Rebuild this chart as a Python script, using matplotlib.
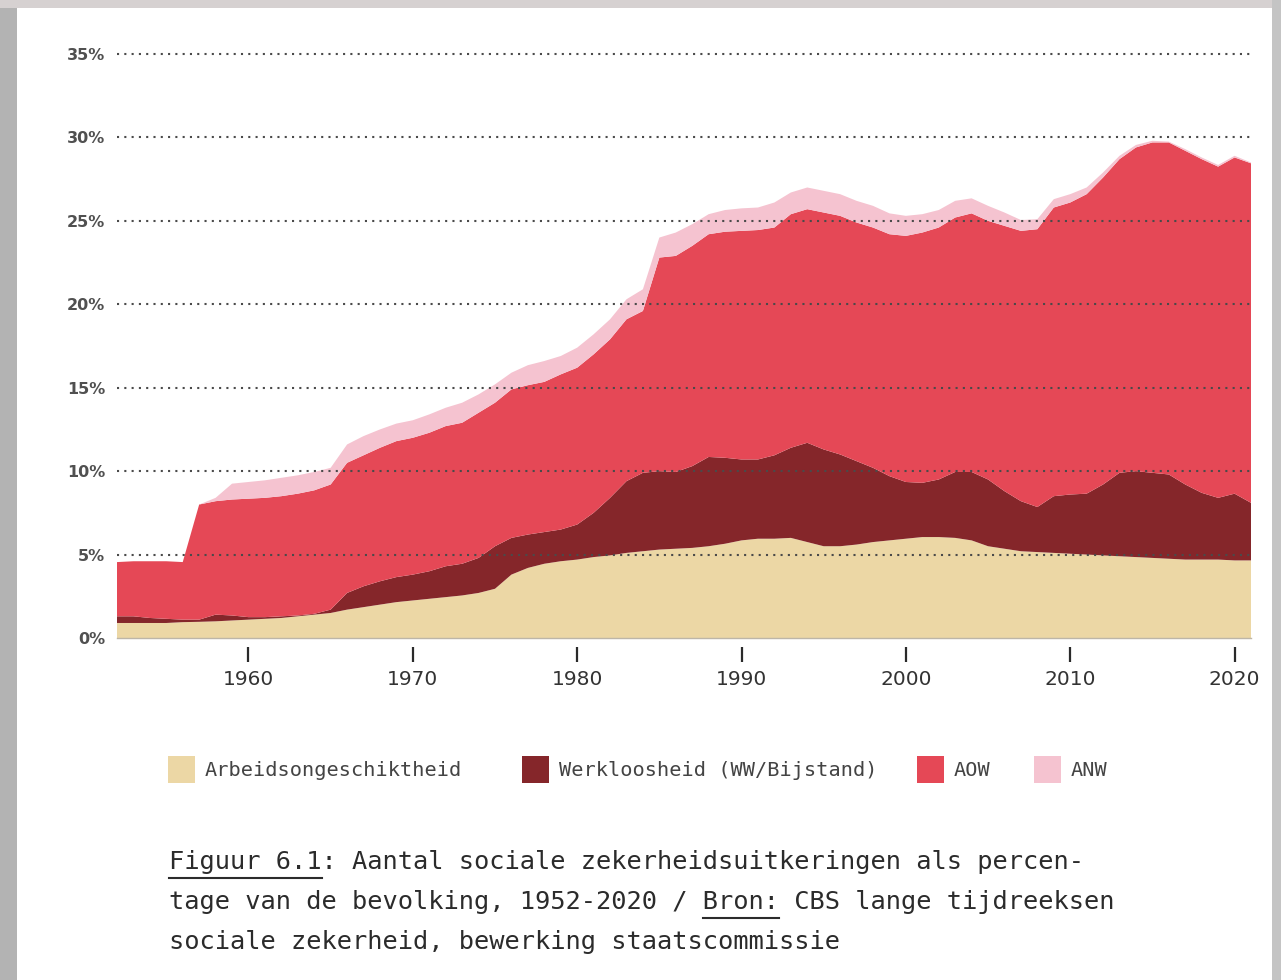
import matplotlib
matplotlib.use("Agg")
import matplotlib.pyplot as plt
from matplotlib.patches import Rectangle
from matplotlib.lines import Line2D

# ---------------- data (percent of population) ----------------
years = list(range(1952, 2022))

arbeidsongeschiktheid = [
    0.90, 0.90, 0.90, 0.90, 0.95, 0.97, 1.00, 1.05, 1.10, 1.15,
    1.20, 1.30, 1.40, 1.50, 1.70, 1.85, 2.00, 2.15, 2.25, 2.35,
    2.45, 2.55, 2.70, 2.95, 3.80, 4.20, 4.45, 4.60, 4.70, 4.85,
    4.95, 5.10, 5.20, 5.30, 5.35, 5.40, 5.50, 5.65, 5.85, 5.95,
    5.95, 6.00, 5.75, 5.50, 5.50, 5.60, 5.75, 5.85, 5.95, 6.05,
    6.05, 6.00, 5.85, 5.50, 5.35, 5.20, 5.15, 5.10, 5.05, 5.00,
    4.95, 4.90, 4.85, 4.80, 4.75, 4.70, 4.70, 4.70, 4.65, 4.65,
]
werkloosheid = [
    0.40, 0.40, 0.30, 0.25, 0.15, 0.13, 0.40, 0.30, 0.15, 0.10,
    0.10, 0.05, 0.05, 0.20, 1.00, 1.25, 1.40, 1.50, 1.55, 1.65,
    1.85, 1.90, 2.10, 2.55, 2.20, 2.00, 1.90, 1.90, 2.10, 2.65,
    3.45, 4.30, 4.70, 4.70, 4.60, 4.90, 5.35, 5.15, 4.85, 4.75,
    5.00, 5.40, 5.95, 5.80, 5.50, 5.00, 4.45, 3.85, 3.40, 3.25,
    3.45, 3.95, 4.10, 4.00, 3.45, 3.00, 2.70, 3.40, 3.55, 3.65,
    4.25, 5.00, 5.15, 5.10, 5.05, 4.50, 4.00, 3.70, 4.00, 3.45,
]
aow = [
    3.25, 3.30, 3.40, 3.45, 3.45, 6.90, 6.80, 6.95, 7.10, 7.15,
    7.20, 7.30, 7.40, 7.50, 7.80, 7.85, 8.00, 8.15, 8.20, 8.30,
    8.40, 8.45, 8.70, 8.60, 8.90, 8.95, 9.00, 9.30, 9.40, 9.50,
    9.50, 9.70, 9.70, 12.80, 12.95, 13.20, 13.35, 13.55, 13.70, 13.75,
    13.65, 14.00, 14.00, 14.20, 14.30, 14.30, 14.40, 14.50, 14.75, 15.00,
    15.10, 15.25, 15.50, 15.50, 15.90, 16.20, 16.65, 17.30, 17.50, 17.95,
    18.40, 18.80, 19.40, 19.80, 19.90, 20.00, 20.00, 19.85, 20.15, 20.35,
]
anw = [
    0.00, 0.00, 0.00, 0.00, 0.00, 0.00, 0.20, 0.95, 1.00, 1.05,
    1.10, 1.10, 1.10, 1.00, 1.10, 1.15, 1.10, 1.05, 1.05, 1.10,
    1.10, 1.20, 1.10, 1.10, 1.00, 1.20, 1.25, 1.10, 1.20, 1.20,
    1.20, 1.20, 1.30, 1.20, 1.40, 1.30, 1.20, 1.30, 1.35, 1.35,
    1.50, 1.30, 1.30, 1.30, 1.30, 1.30, 1.30, 1.25, 1.20, 1.10,
    1.05, 1.00, 0.90, 0.90, 0.80, 0.65, 0.60, 0.50, 0.50, 0.40,
    0.30, 0.20, 0.15, 0.10, 0.05, 0.10, 0.10, 0.10, 0.10, 0.05,
]

series_labels = ["Arbeidsongeschiktheid", "Werkloosheid (WW/Bijstand)", "AOW", "ANW"]
series_colors = ["#ECD7A5", "#85262A", "#E54856", "#F5C3D0"]

y_ticks = [0, 5, 10, 15, 20, 25, 30, 35]
y_tick_labels = ["0%", "5%", "10%", "15%", "20%", "25%", "30%", "35%"]
x_ticks = [1960, 1970, 1980, 1990, 2000, 2010, 2020]
x_tick_labels = ["1960", "1970", "1980", "1990", "2000", "2010", "2020"]

caption_lines = [
    "Figuur 6.1: Aantal sociale zekerheidsuitkeringen als percen-",
    "tage van de bevolking, 1952-2020 / Bron: CBS lange tijdreeksen",
    "sociale zekerheid, bewerking staatscommissie",
]
# (line index, start char, end char) of underlined parts
underlines = [(0, 0, 10), (1, 35, 40)]

# ---------------- figure ----------------
W, H = 1281, 980
fig = plt.figure(figsize=(W / 100, H / 100), dpi=100, facecolor="#b3b3b3")


def fx(x):
    return x / W


def fy(y):
    return 1 - y / H


# page background (photo-like border)
fig.add_artist(Rectangle((0, fy(8)), 1, 8 / H, transform=fig.transFigure,
                         facecolor="#d6d1d1", edgecolor="none", zorder=-3))
fig.add_artist(Rectangle((fx(1272), 0), 9 / W, 1, transform=fig.transFigure,
                         facecolor="#c4c4c4", edgecolor="none", zorder=-3))
fig.add_artist(Rectangle((fx(17), 0), (1272 - 17) / W, fy(8), transform=fig.transFigure,
                         facecolor="white", edgecolor="none", zorder=-2))

ax = fig.add_axes([fx(117), fy(638), (1251 - 117) / W, (638 - 54) / H])
ax.set_facecolor("none")

ax.stackplot(years, arbeidsongeschiktheid, werkloosheid, aow, anw,
             colors=series_colors, linewidth=0, zorder=1)

for v in y_ticks[1:]:
    ax.axhline(v, color="#4a4a4a", lw=1.5, ls=(0, (1, 2.5)), zorder=3, clip_on=False)
ax.axhline(0, color="#bdb6a8", lw=1.0, zorder=3, clip_on=False)

ax.set_xlim(1952, 2021)
ax.set_ylim(0, 35)

for s in ax.spines.values():
    s.set_visible(False)
ax.spines["bottom"].set_position(("outward", 6.5))

ax.set_yticks(y_ticks, y_tick_labels)
ax.set_xticks(x_ticks, x_tick_labels)
ax.tick_params(axis="y", length=0, pad=8.5, labelsize=11.5, labelcolor="#505050")
for lbl in ax.get_yticklabels():
    lbl.set_fontweight("bold")
ax.tick_params(axis="x", length=10.8, width=1.6, color="#2a2a2a", pad=5.5,
               labelsize=14.5, labelcolor="#333333")

# ---------------- legend ----------------
legend_x = [168, 522, 917, 1034]
for lx, lab, col in zip(legend_x, series_labels, series_colors):
    fig.add_artist(Rectangle((fx(lx), fy(783)), 27 / W, 27 / H, transform=fig.transFigure,
                             facecolor=col, edgecolor="none"))
    fig.text(fx(lx + 37), fy(770), lab, family="DejaVu Sans Mono", fontsize=14.6,
             color="#444444", ha="left", va="center")

# ---------------- caption ----------------
baselines = [869, 909, 949]
texts = []
for line, by in zip(caption_lines, baselines):
    t = fig.text(fx(169), fy(by), line, family="DejaVu Sans Mono", fontsize=18.3,
                 color="#2b2b2b", ha="left", va="baseline")
    texts.append(t)

fig.canvas.draw()
renderer = fig.canvas.get_renderer()
for li, c0, c1 in underlines:
    t = texts[li]
    bb = t.get_window_extent(renderer)
    cw = bb.width / len(caption_lines[li])
    x0 = bb.x0 + c0 * cw
    x1 = bb.x0 + c1 * cw
    ypix = H - (baselines[li] + 9)
    fig.add_artist(Line2D([x0 / W, x1 / W], [ypix / H, ypix / H], transform=fig.transFigure,
                          color="#2b2b2b", lw=1.5))

fig.savefig("out.png", dpi=100, facecolor=fig.get_facecolor())
